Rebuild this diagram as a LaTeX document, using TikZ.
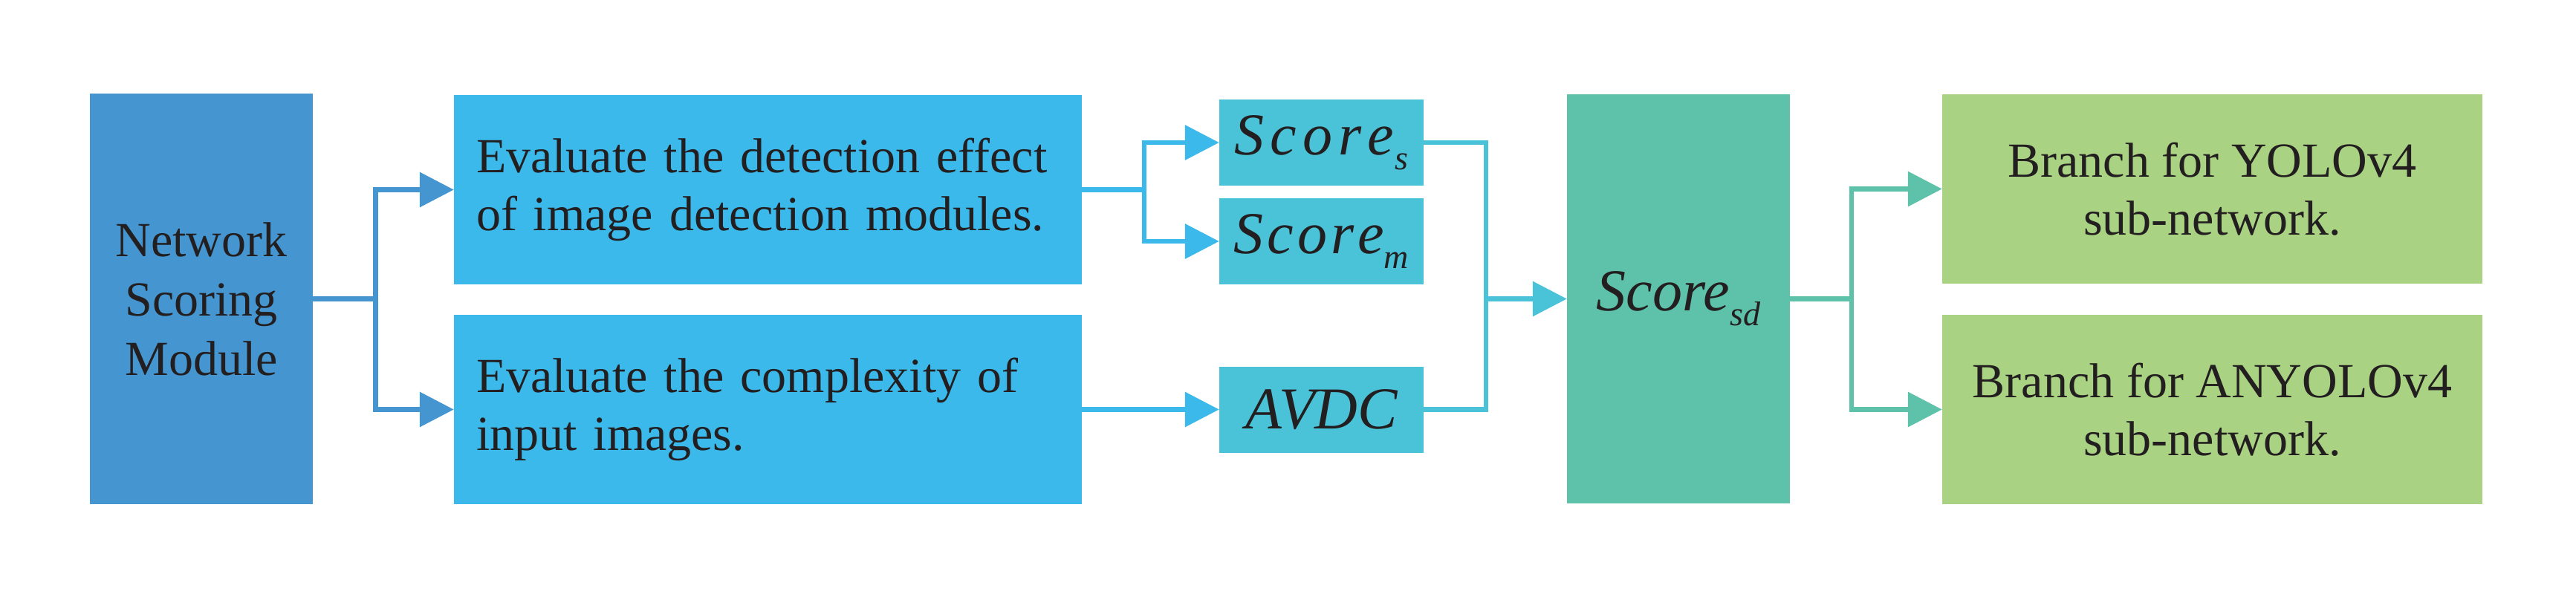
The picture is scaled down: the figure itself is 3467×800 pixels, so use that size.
\documentclass[tikz,border=0pt]{standalone}
\usepackage{fontspec}
\setmainfont{Liberation Serif}
\usetikzlibrary{arrows.meta}
\definecolor{txt}{HTML}{231F20}
\definecolor{nsmc}{HTML}{4596D0}
\definecolor{evc}{HTML}{3BB9EA}
\definecolor{scc}{HTML}{4AC3D9}
\definecolor{sdc}{HTML}{5EC1AA}
\definecolor{brc}{HTML}{A9D283}
\newcommand{\spscore}[1]{S\kern#1 c\kern#1 o\kern#1 r\kern#1 e}
\newcommand{\subsc}[1]{\raisebox{-20pt}{\fontsize{46}{46}\selectfont #1}}
\tikzset{
  box/.style={draw=none, inner sep=0pt, text=txt, font=\fontsize{66}{78}\selectfont},
  evbox/.style={box, fill=evc, text width=785pt, inner xsep=30pt, align=left, minimum height=255pt},
  scbox/.style={box, fill=scc, minimum width=275pt, minimum height=116pt, font=\fontsize{80}{80}\selectfont\itshape},
  brbox/.style={box, fill=brc, minimum width=727pt, minimum height=255pt, align=center},
  wire/.style={line width=6.5pt, line join=miter},
  arr/.style={wire, -{Triangle[length=46pt,width=46pt]}}
}
\begin{document}
\begin{tikzpicture}[x=1pt,y=-1pt]
\useasboundingbox (0,0) rectangle (3467,800);
% boxes
\node[box, fill=nsmc, minimum width=300pt, minimum height=553pt, align=center,
      font=\fontsize{66}{80}\selectfont] (nsm) at (271,402.5) {Network\\Scoring\\Module};
\node[evbox] (ev1) at (1033.5,255.5) {Evaluate the detection effect\\of image detection modules.};
\node[evbox] (ev2) at (1033.5,551.5) {Evaluate the complexity of\\input images.};
\node[scbox] (ss) at (1778.5,192) {\spscore{8pt}\kern2pt\subsc{s}};
\node[scbox] (sm) at (1778.5,325) {\spscore{5pt}\subsc{m}};
\node[scbox] (av) at (1778.5,551.5) {AVDC};
\node[box, fill=sdc, minimum width=300pt, minimum height=551pt,
      font=\fontsize{80}{80}\selectfont\itshape] (sd) at (2259,402.5) {Score\subsc{sd}};
\node[brbox] (b1) at (2977.5,254.5) {Branch for YOLOv4\\sub-network.};
\node[brbox] (b2) at (2977.5,551.5) {Branch for ANYOLOv4\\sub-network.};
% junctions
\coordinate (j1) at (505.5,402.5);
\coordinate (j2) at (1540,255.5);
\coordinate (j3) at (2000,402.5);
\coordinate (j4) at (2492,402.5);
% connectors
\draw[wire, nsmc] (nsm.east) -- (j1);
\draw[arr, nsmc] (j1) |- (ev1.west);
\draw[arr, nsmc] (j1) |- (ev2.west);
\draw[wire, evc] (ev1.east) -- (j2);
\draw[arr, evc] (j2) |- (ss.west);
\draw[arr, evc] (j2) |- (sm.west);
\draw[arr, evc] (ev2.east) -- (av.west);
\draw[wire, scc] (ss.east) -| (j3);
\draw[wire, scc] (av.east) -| (j3);
\draw[arr, scc] (j3) -- (sd.west);
\draw[wire, sdc] (sd.east) -- (j4);
\draw[arr, sdc] (j4) |- (b1.west);
\draw[arr, sdc] (j4) |- (b2.west);
\end{tikzpicture}
\end{document}
